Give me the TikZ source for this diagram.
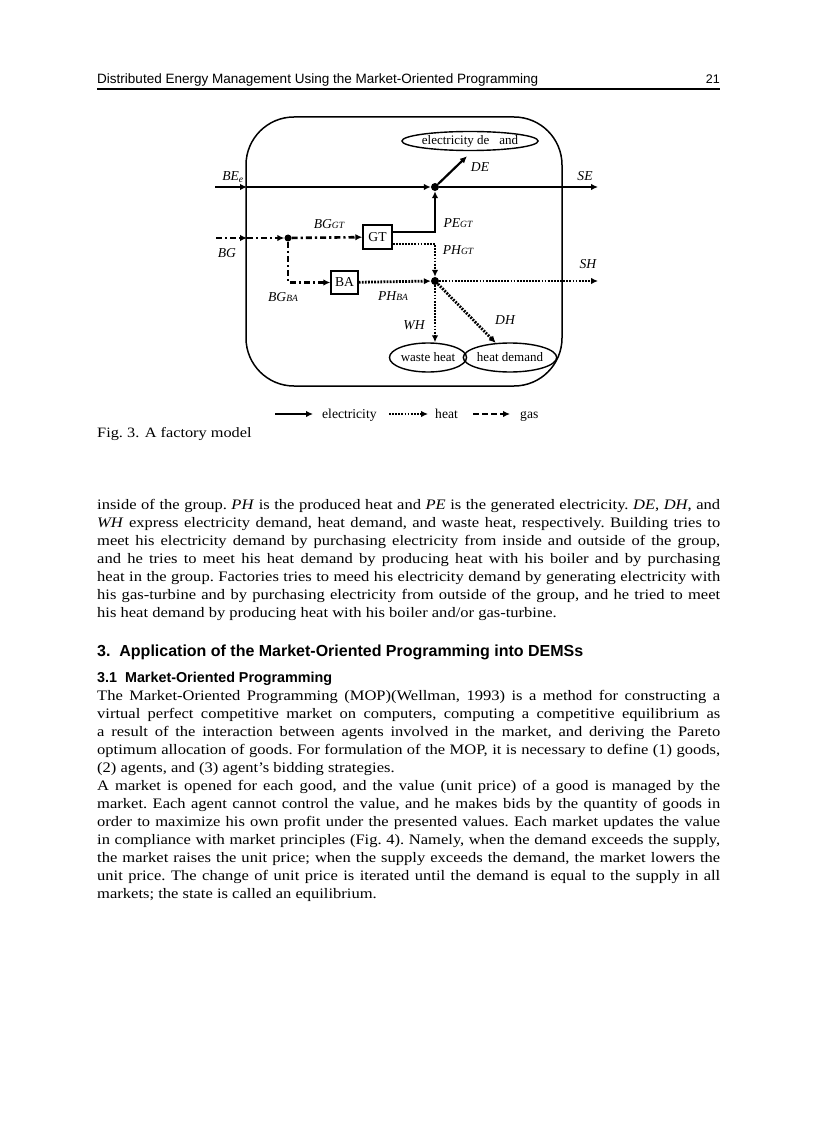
\documentclass[tikz,border=0pt]{standalone}
\usepackage{fontspec}
\setmainfont{Liberation Serif}
\setsansfont{Liberation Sans}
\newfontfamily\bodyfont[FakeStretch=1.14]{Liberation Serif}
\usepackage{graphicx}
\usetikzlibrary{arrows.meta,shapes.geometric,calc}
\newcommand{\sbx}[1]{{\fontsize{9.5}{10}\selectfont\raisebox{-0.8pt}{\textit{#1}}}}
\tikzset{
  tip/.style={-{Latex[length=7pt,width=6.5pt]}},
  elec/.style={line width=2.2pt,tip},
  heatl/.style={line width=2.8pt,dash pattern=on 1.8pt off 1.3pt,tip},
  gasl/.style={line width=2.6pt,dash pattern=on 6pt off 3pt on 2.2pt off 3pt,tip},
  gasleg/.style={line width=2.6pt,dash pattern=on 6pt off 3pt,tip},
  dotn/.style={circle,fill=black,inner sep=0pt,minimum size=8pt},
  oval/.style={ellipse,draw,line width=1.4pt,inner sep=0pt,font=\fontsize{13}{15}\selectfont},
  unit/.style={rectangle,draw,line width=1.4pt,inner sep=0pt,font=\fontsize{13.6}{15}\selectfont},
  lab/.style={inner sep=0pt,font=\fontsize{13.6}{15}\selectfont\itshape},
  leg/.style={inner sep=0pt,font=\fontsize{13.6}{15}\selectfont},
  bodyl/.style={anchor=base west,inner sep=0pt,font=\bodyfont\frenchspacing\fontsize{14.5}{18}\selectfont},
}
\begin{document}
\begin{tikzpicture}[x=1pt,y=-1pt]
\useasboundingbox[fill=white] (0,0) rectangle (816,1123);

% header
\node[anchor=base west,inner sep=0pt] (hdr) at (97,84) {\resizebox{441pt}{!}{\sffamily Distributed Energy Management Using the Market-Oriented Programming}};
\node[anchor=base east,inner sep=0pt,font=\sffamily\fontsize{12.5}{14}\selectfont] (pg) at (720,84) {21};
\draw[line width=1.3pt] (97,89) coordinate (rl) -- (720,89) coordinate (rr);

% factory box
\node[draw,line width=1.5pt,rounded corners=48pt,minimum width=316pt,minimum height=269pt,inner sep=0pt] (factory) at (404,251.5) {};

% nodes
\node[oval,minimum width=120pt,minimum height=19pt] (ed) at (470,141) {electricity de\hspace{10pt}and};
\node[oval,minimum width=74pt,minimum height=29pt] (wh) at (428,357.5) {waste heat};
\node[oval,minimum width=85pt,minimum height=29pt] (hd) at (510,357.5) {heat demand};
\node[unit,minimum width=29pt,minimum height=24pt] (gt) at (377.5,237) {GT};
\node[unit,minimum width=27pt,minimum height=23pt] (ba) at (344.5,282.5) {BA};
\node[dotn] (edot) at (435,187) {};
\node[dotn] (hdot) at (435,281) {};
\node[dotn,minimum size=7pt] (gdot) at (288,238) {};

\coordinate (beIn) at (215,187);
\coordinate (beBox) at (247,187);
\coordinate (seOut) at (598,187);
\coordinate (bgIn) at (216,238);
\coordinate (bgBox) at (247,238);
\coordinate (shOut) at (598,281);

% electricity
\draw[elec] (beIn) -- (beBox);
\draw[elec] (beBox) -- (edot);
\draw[elec] (edot) -- (seOut);
\draw[elec] (edot) -- ([xshift=-3pt,yshift=-5pt]ed.south);
\draw[elec] ([yshift=5pt]gt.east) -| (edot);

% gas
\draw[gasl] (bgIn) -- (bgBox);
\draw[gasl] (bgBox) -- (gdot);
\draw[gasl] (gdot) -- (gt);
\draw[gasl] (gdot) |- (ba);

% heat
\draw[heatl] ([yshift=-7pt]gt.east) -| (hdot);
\draw[heatl] (ba) -- (hdot);
\draw[heatl] (hdot) -- (shOut);
\draw[heatl] (hdot) -- (hdot |- wh.north);
\draw[heatl] (hdot) -- (hd);

% labels
\node[lab] (lbe) at (233,177) {BE\textsubscript{\itshape e}};
\node[lab] (lse) at (585,176) {SE};
\node[lab] (lde) at (480,167) {DE};
\node[lab] (lbggt) at (329,224) {BG\sbx{GT}};
\node[lab] (lpegt) at (458,223) {PE\sbx{GT}};
\node[lab] (lphgt) at (458,250) {PH\sbx{GT}};
\node[lab] (lbg) at (227,253) {BG};
\node[lab] (lsh) at (588,264) {SH};
\node[lab] (lbgba) at (283,297) {BG\sbx{BA}};
\node[lab] (lphba) at (393,296) {PH\sbx{BA}};
\node[lab] (lwh) at (414,325) {WH};
\node[lab] (ldh) at (505,320) {DH};

% legend
\coordinate (le1) at (275,414); \coordinate (le2) at (313,414);
\draw[elec,line width=1.8pt] (le1) -- (le2);
\node[leg,anchor=base west] (lelec) at (322,418) {electricity};
\coordinate (lh1) at (389,414); \coordinate (lh2) at (428,414);
\draw[heatl] (lh1) -- (lh2);
\node[leg,anchor=base west] (lheat) at (435,418) {heat};
\coordinate (lg1) at (473,414); \coordinate (lg2) at (510,414);
\draw[gasleg] (lg1) -- (lg2);
\node[leg,anchor=base west] (lgas) at (520,418) {gas};

% caption
\node[anchor=base west,inner sep=0pt,font=\bodyfont\fontsize{14.3}{18}\selectfont] (cap) at (97,437) {Fig.~3. A factory model};

% body paragraph 1
\node[bodyl] (b1) at (97,509) {\makebox[623pt][s]{inside of the group. \textit{PH} is the produced heat and \textit{PE} is the generated electricity. \textit{DE}, \textit{DH}, and}};
\node[bodyl] (b2) at (97,527) {\makebox[623pt][s]{\textit{WH} express electricity demand, heat demand, and waste heat, respectively. Building tries to}};
\node[bodyl] (b3) at (97,545) {\makebox[623pt][s]{meet his electricity demand by purchasing electricity from inside and outside of the group,}};
\node[bodyl] (b4) at (97,563) {\makebox[623pt][s]{and he tries to meet his heat demand by producing heat with his boiler and by purchasing}};
\node[bodyl] (b5) at (97,581) {\makebox[623pt][s]{heat in the group. Factories tries to meed his electricity demand by generating electricity with}};
\node[bodyl] (b6) at (97,599) {\makebox[623pt][s]{his gas-turbine and by purchasing electricity from outside of the group, and he tried to meet}};
\node[bodyl] (b7) at (97,617) {his heat demand by producing heat with his boiler and/or gas-turbine.};

% headings
\node[anchor=base west,inner sep=0pt] (h3) at (97,656) {\resizebox{486pt}{!}{\sffamily\bfseries 3.\ \ Application of the Market-Oriented Programming into DEMSs}};
\node[anchor=base west,inner sep=0pt] (h31) at (97,682) {\resizebox{235pt}{!}{\sffamily\bfseries 3.1\ \ Market-Oriented Programming}};

% body paragraph 2
\node[bodyl] (c1) at (97,700) {\makebox[623pt][s]{The Market-Oriented Programming (MOP)(Wellman, 1993) is a method for constructing a}};
\node[bodyl] (c2) at (97,718) {\makebox[623pt][s]{virtual perfect competitive market on computers, computing a competitive equilibrium as}};
\node[bodyl] (c3) at (97,736) {\makebox[623pt][s]{a result of the interaction between agents involved in the market, and deriving the Pareto}};
\node[bodyl] (c4) at (97,754) {\makebox[623pt][s]{optimum allocation of goods. For formulation of the MOP, it is necessary to define (1) goods,}};
\node[bodyl] (c5) at (97,772) {(2) agents, and (3) agent’s bidding strategies.};
\node[bodyl] (c6) at (97,790) {\makebox[623pt][s]{A market is opened for each good, and the value (unit price) of a good is managed by the}};
\node[bodyl] (c7) at (97,808) {\makebox[623pt][s]{market. Each agent cannot control the value, and he makes bids by the quantity of goods in}};
\node[bodyl] (c8) at (97,826) {\makebox[623pt][s]{order to maximize his own profit under the presented values. Each market updates the value}};
\node[bodyl] (c9) at (97,844) {\makebox[623pt][s]{in compliance with market principles (Fig. 4). Namely, when the demand exceeds the supply,}};
\node[bodyl] (c10) at (97,862) {\makebox[623pt][s]{the market raises the unit price; when the supply exceeds the demand, the market lowers the}};
\node[bodyl] (c11) at (97,880) {\makebox[623pt][s]{unit price. The change of unit price is iterated until the demand is equal to the supply in all}};
\node[bodyl] (c12) at (97,898) {markets; the state is called an equilibrium.};
\end{tikzpicture}
\end{document}
